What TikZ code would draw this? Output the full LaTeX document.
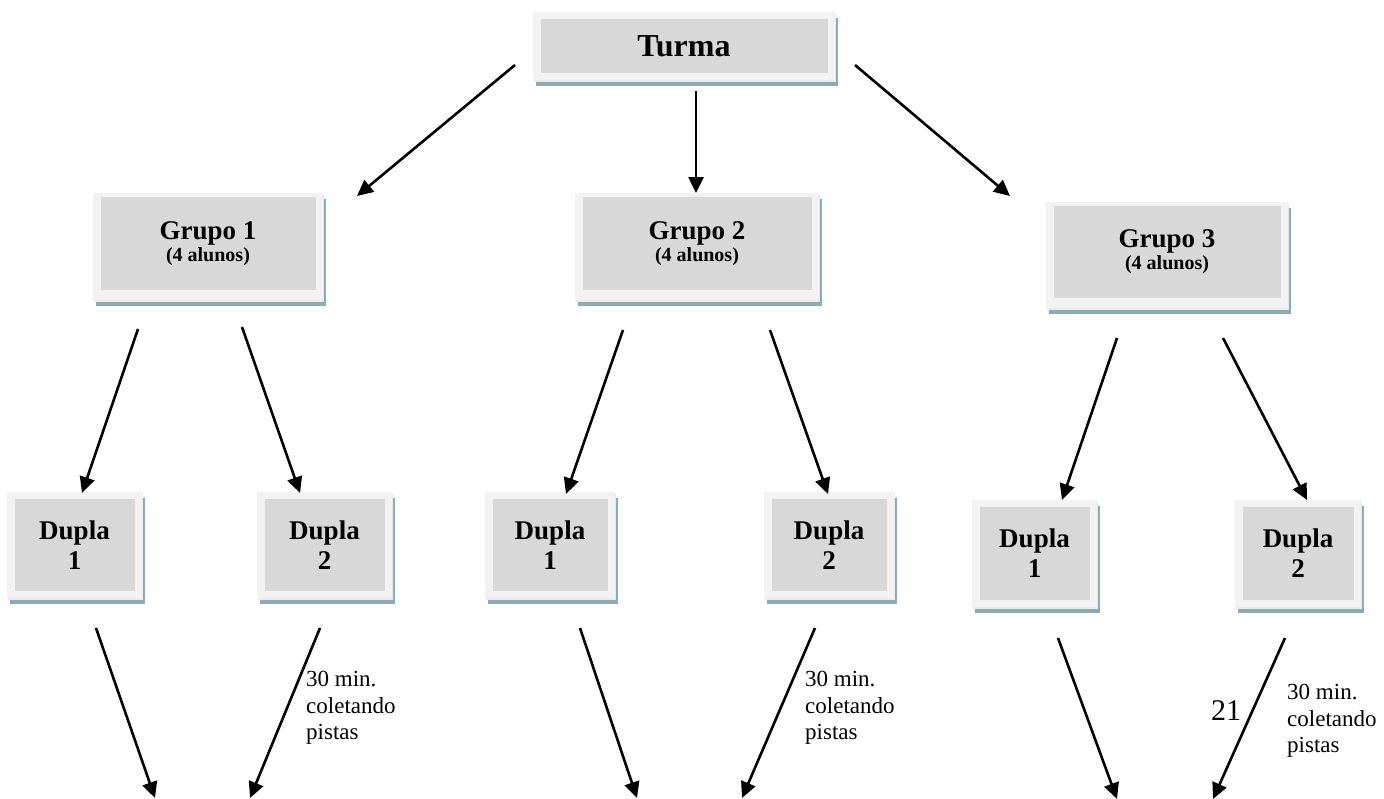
\documentclass[tikz,border=0pt]{standalone}
\usepackage{fontspec}
\setmainfont{Liberation Serif}
\usetikzlibrary{arrows.meta}
\definecolor{shcol}{HTML}{90AAB3}
\definecolor{shline}{HTML}{E4ECEE}
\definecolor{outcol}{HTML}{F2F2F2}
\definecolor{incol}{HTML}{D8D8D8}
\newcommand\mybox[7]{%
  \pgfmathsetmacro\bw{#4-#2-15}%
  \pgfmathsetmacro\bh{#5-#3-14}%
  \fill[shcol] ({#2+3},{#3+6}) rectangle ({#4+3},{#5+6});
  \fill[shline] ({#2+1},{#3+2}) rectangle ({#4+1},{#5+2});
  \fill[outcol] (#2,#3) rectangle (#4,#5);
  \node[inbox, minimum width=\bw pt, minimum height=\bh pt, #7] (#1) at ({(#2+#4)/2},{(#3+#5)/2}) {#6};
}
\begin{document}
\begin{tikzpicture}[x=1pt,y=-1pt,
  inbox/.style={fill=incol, draw=none, inner sep=0pt, align=center},
  turmafont/.style={font=\fontsize{32}{34}\selectfont\bfseries},
  grupofont/.style={font=\fontsize{27}{22}\selectfont\bfseries},
  duplafont/.style={font=\fontsize{27}{30}\selectfont\bfseries},
  arr/.style={line width=2.6pt, -{Triangle[length=16pt,width=15pt]}},
  lbl/.style={font=\fontsize{23}{26.5}\selectfont, align=left, inner sep=0pt, anchor=north west}]
\useasboundingbox (0,0) rectangle (1384,798);
\clip (0,0) rectangle (1384,798);
\fill[white] (0,0) rectangle (1384,798);

% boxes
\mybox{turma}{533}{12}{835}{80}{Turma}{turmafont}
\mybox{g1}{93}{193}{323}{300}{Grupo 1\\{\fontsize{20}{22}\selectfont (4 alunos)}}{grupofont, yshift=3pt}
\mybox{g2}{575}{193}{819}{300}{Grupo 2\\{\fontsize{20}{22}\selectfont (4 alunos)}}{grupofont, yshift=3pt}
\mybox{g3}{1046}{202}{1288}{308}{Grupo 3\\{\fontsize{20}{22}\selectfont (4 alunos)}}{grupofont, yshift=3pt}
\mybox{d1a}{7}{492}{142}{598}{Dupla\\1}{duplafont}
\mybox{d2a}{257}{492}{392}{598}{Dupla\\2}{duplafont}
\mybox{d1b}{485}{492}{615}{598}{Dupla\\1}{duplafont}
\mybox{d2b}{764}{492}{894}{598}{Dupla\\2}{duplafont}
\mybox{d1c}{972}{500}{1097}{607}{Dupla\\1}{duplafont}
\mybox{d2c}{1235}{500}{1361}{607}{Dupla\\2}{duplafont}

% arrow end points
\coordinate (t1s) at (515,65);   \coordinate (t1e) at (357,196);
\coordinate (t2s) at (696,91);   \coordinate (t2e) at (696,193);
\coordinate (t3s) at (855,65);   \coordinate (t3e) at (1010,196);
\coordinate (g1as) at (138,329); \coordinate (g1ae) at (82,493);
\coordinate (g1bs) at (242,327); \coordinate (g1be) at (300,493);
\coordinate (g2as) at (623,330); \coordinate (g2ae) at (566,494);
\coordinate (g2bs) at (770,330); \coordinate (g2be) at (828,494);
\coordinate (g3as) at (1117,338);\coordinate (g3ae) at (1062,500);
\coordinate (g3bs) at (1223,338);\coordinate (g3be) at (1307,500);
\coordinate (d1as) at (96,628);  \coordinate (d1ae) at (155,798);
\coordinate (d2as) at (320,628); \coordinate (d2ae) at (250,798);
\coordinate (d1bs) at (580,628); \coordinate (d1be) at (637,798);
\coordinate (d2bs) at (815,628); \coordinate (d2be) at (742,798);
\coordinate (d1cs) at (1058,638);\coordinate (d1ce) at (1117,799);
\coordinate (d2cs) at (1285,638);\coordinate (d2ce) at (1213,799);

\draw[arr] (t1s) -- (t1e);
\draw[arr] (t2s) -- (t2e);
\draw[arr] (t3s) -- (t3e);
\draw[arr] (g1as) -- (g1ae);
\draw[arr] (g1bs) -- (g1be);
\draw[arr] (g2as) -- (g2ae);
\draw[arr] (g2bs) -- (g2be);
\draw[arr] (g3as) -- (g3ae);
\draw[arr] (g3bs) -- (g3be);
\draw[arr] (d1as) -- (d1ae);
\draw[arr] (d2as) -- (d2ae);
\draw[arr] (d1bs) -- (d1be);
\draw[arr] (d2bs) -- (d2be);
\draw[arr] (d1cs) -- (d1ce);
\draw[arr] (d2cs) -- (d2ce);

% labels
\node[lbl] (la) at (306,671) {30 min.\\coletando\\pistas};
\node[lbl] (lb) at (805,671) {30 min.\\coletando\\pistas};
\node[lbl] (lc) at (1287,684) {30 min.\\coletando\\pistas};
\node[font=\fontsize{30}{34}\selectfont, inner sep=0pt, anchor=base west] (pg) at (1211,720) {21};
\end{tikzpicture}
\end{document}
